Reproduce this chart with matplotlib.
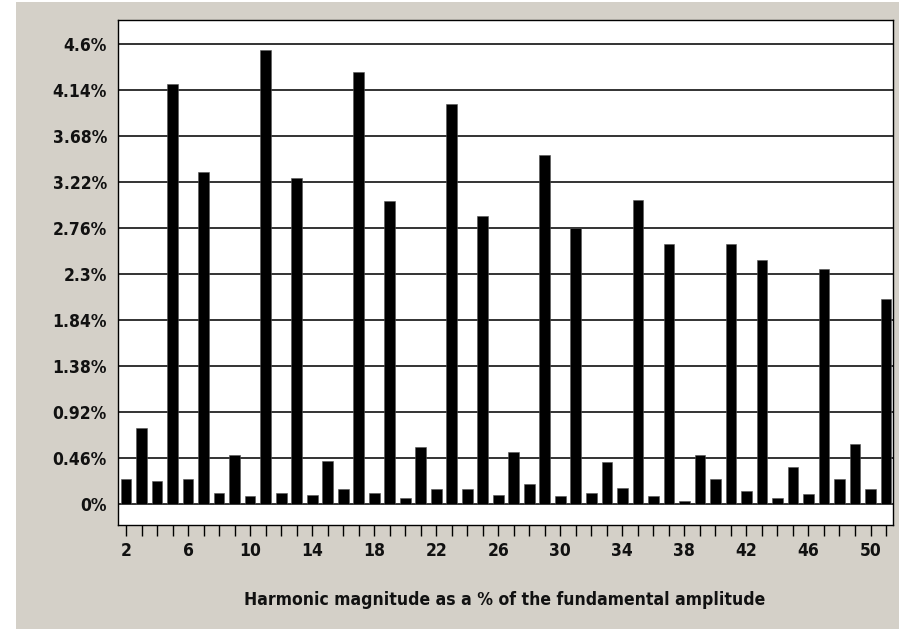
import matplotlib
matplotlib.use("Agg")
import matplotlib.pyplot as plt
import matplotlib.ticker as ticker
from matplotlib.patches import Rectangle

# Harmonic order 2..51 and magnitude (% of fundamental)
harmonics = list(range(2, 52))
magnitude = [
    0.25, 0.76, 0.23, 4.20, 0.25, 3.32, 0.11, 0.49, 0.08, 4.54,   # 2-11
    0.11, 3.26, 0.09, 0.43, 0.15, 4.32, 0.11, 3.03, 0.06, 0.57,   # 12-21
    0.15, 4.00, 0.15, 2.88, 0.09, 0.52, 0.20, 3.49, 0.08, 2.76,   # 22-31
    0.11, 0.42, 0.16, 3.04, 0.08, 2.60, 0.03, 0.49, 0.25, 2.60,   # 32-41
    0.13, 2.44, 0.06, 0.37, 0.10, 2.35, 0.25, 0.60, 0.15, 2.05,   # 42-51
]
y_ticks = [0, 0.46, 0.92, 1.38, 1.84, 2.3, 2.76, 3.22, 3.68, 4.14, 4.6]
y_labels = ["0%", "0.46%", "0.92%", "1.38%", "1.84%", "2.3%", "2.76%",
            "3.22%", "3.68%", "4.14%", "4.6%"]
x_labels = list(range(2, 51, 4))

BG = "#d4d0c8"
FONT = "DejaVu Sans"

fig = plt.figure(figsize=(8.99, 6.29), dpi=100)
fig.patch.set_facecolor("white")
fig.patches.append(Rectangle((16 / 899, 0), 1, 627 / 629, transform=fig.transFigure,
                             facecolor=BG, edgecolor="none", zorder=-1))

ax = fig.add_axes([118 / 899, 104 / 629, 775 / 899, 505 / 629])
ax.set_facecolor("white")

ax.bar(harmonics, magnitude, width=0.69, color="black",
       edgecolor="#555555", linewidth=0.4, zorder=3)

ax.set_xlim(1.48, 51.45)
ax.set_ylim(-0.21, 4.84)

ax.set_yticks(y_ticks)
ax.set_yticklabels(y_labels)
ax.yaxis.grid(True, color="#333333", linewidth=1.4, zorder=1)
ax.tick_params(axis="y", length=0, pad=8)

ax.xaxis.set_major_locator(ticker.FixedLocator(x_labels))
ax.xaxis.set_minor_locator(ticker.MultipleLocator(1))
ax.set_xticklabels([str(v) for v in x_labels])
ax.tick_params(axis="x", which="both", direction="out", length=8,
               width=1, color="black", pad=4)

for lab in ax.get_xticklabels() + ax.get_yticklabels():
    lab.set_family(FONT)
    lab.set_fontsize(12.5)
    lab.set_fontstretch("condensed")
    lab.set_fontweight("bold")
    lab.set_color("#111111")

for sp in ax.spines.values():
    sp.set_color("black")
    sp.set_linewidth(1)

fig.text(505 / 899, 1 - 600 / 629, "Harmonic magnitude as a % of the fundamental amplitude",
         ha="center", va="center", fontsize=12.6, fontstretch="condensed",
         fontweight="bold", family=FONT, color="#111111")

fig.savefig("out.png", dpi=100, facecolor=fig.get_facecolor())
